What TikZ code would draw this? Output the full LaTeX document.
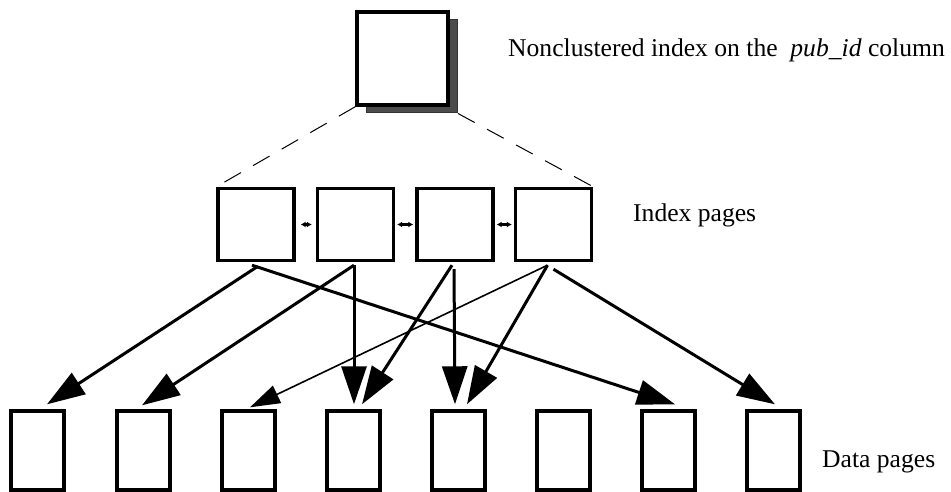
\documentclass[tikz,border=0pt]{standalone}
\usepackage{fontspec}
\setmainfont{Liberation Serif}
\usetikzlibrary{arrows.meta}
\begin{document}
\begin{tikzpicture}[x=1pt,y=-1pt,
  pagebox/.style={draw=black,line width=3.4pt,fill=white,inner sep=0pt},
  idxbox/.style={pagebox,minimum width=76pt,minimum height=72pt},
  databox/.style={pagebox,minimum width=53pt,minimum height=79pt},
  bigarrow/.style={line width=3pt,-{Triangle[length=38pt,width=25pt]}},
  thinarrow/.style={line width=1.6pt,-{Triangle[length=30pt,width=19pt]}},
  linkarrow/.style={line width=2.6pt,{Latex[length=5pt,width=6pt]}-{Latex[length=5pt,width=6pt]}},
  dashline/.style={line width=1pt,dash pattern=on 19pt off 14pt},
  label/.style={anchor=base west,inner sep=0pt,font=\fontsize{25.6}{30}\selectfont}
]
\useasboundingbox (0,0) rectangle (951,492);
% top index node with shadow
\node[draw=black!80,line width=1pt,fill=black!70,minimum width=91pt,minimum height=93pt,inner sep=0pt] (sh) at (412,66.5) {};
\node[pagebox,minimum width=91pt,minimum height=93pt] (top) at (402.5,58.5) {};
\node[label] (t1) at (508,57) {Nonclustered index on the \ \textit{pub\_id} column};
% index pages
\foreach \i/\x in {1/256,2/355.5,3/455,4/553.5}
  \node[idxbox] (i\i) at (\x,224.5) {};
\node[label] (t2) at (633,222) {Index pages};
% data pages
\foreach \i/\x in {1/37.5,2/143.5,3/248.5,4/353.5,5/458.5,6/563.5,7/668.5,8/773.5}
  \node[databox] (d\i) at (\x,450.5) {};
\node[label] (t3) at (822,467) {Data pages};
% dashed lines
\draw[dashline] (top.south west) -- (i1.north west);
\draw[dashline] (sh.south east) -- (i4.north east);
% sibling links
\draw[linkarrow] ([xshift=5pt]i1.east) -- ([xshift=-4pt]i2.west);
\draw[linkarrow] ([xshift=2pt]i2.east) -- ([xshift=-2pt]i3.west);
\draw[linkarrow] ([xshift=2pt]i3.east) -- ([xshift=-2pt]i4.west);
% pointers
\draw[bigarrow] ([xshift=2pt,yshift=-4pt]i1.south) -- ([xshift=9.5pt,yshift=5pt]d1.north);
\draw[bigarrow] ([xshift=-4pt,yshift=-3pt]i1.south) -- ([xshift=6.5pt,yshift=5pt]d7.north);
\draw[bigarrow] ([xshift=-1.5pt,yshift=-3pt]i2.south) -- ([xshift=-1.5pt,yshift=4pt]d2.north);
\draw[bigarrow] ([xshift=-1.5pt,yshift=-3pt]i2.south) -- ([xshift=0.5pt,yshift=5pt]d4.north);
\draw[bigarrow] ([xshift=-3pt,yshift=-3pt]i3.south) -- ([xshift=8.5pt,yshift=5pt]d4.north);
\draw[bigarrow] ([xshift=-1pt,yshift=-7pt]i3.south) -- ([xshift=-3.5pt,yshift=5pt]d5.north);
\draw[thinarrow] ([xshift=-6pt,yshift=-3pt]i4.south) -- ([xshift=1.5pt,yshift=2pt]d3.north);
\draw[bigarrow] ([xshift=-6pt,yshift=-3pt]i4.south) -- ([xshift=8.5pt,yshift=5pt]d5.north);
\draw[bigarrow] ([xshift=0pt,yshift=-7pt]i4.south) -- ([xshift=1.5pt,yshift=5pt]d8.north);
\end{tikzpicture}
\end{document}
